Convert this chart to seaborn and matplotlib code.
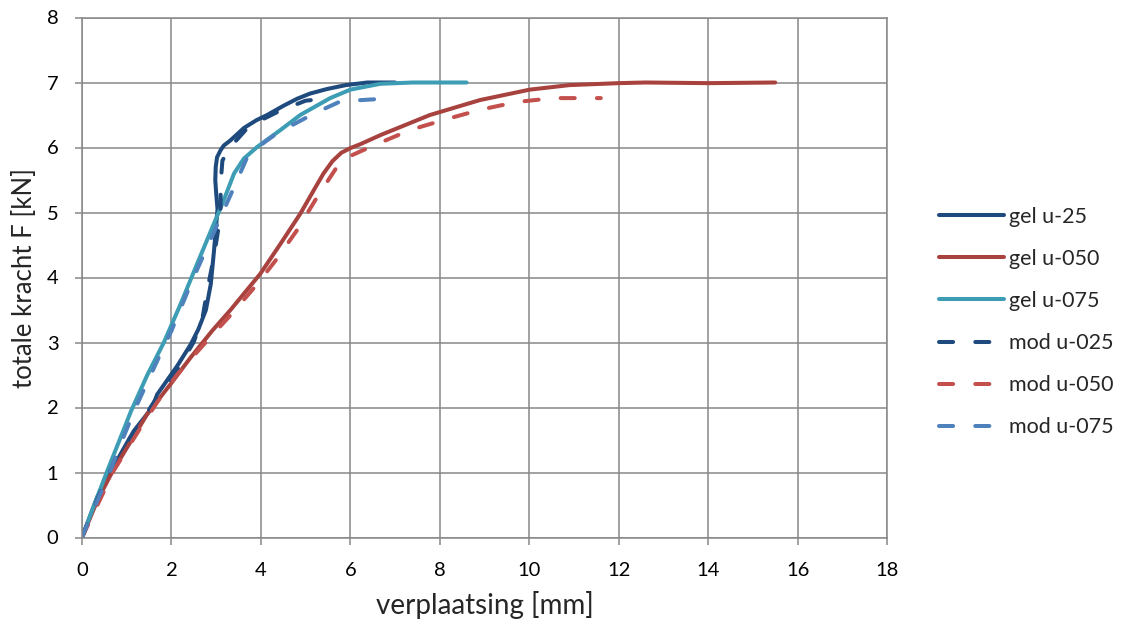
import matplotlib
matplotlib.use("Agg")
import matplotlib.pyplot as plt
import numpy as np
import pandas as pd
import seaborn as sns

# Measured load-displacement curves: displacement u [mm], total force F [kN]
gel_u25_x = [0, 0.34, 0.63, 1.0, 1.16, 1.57, 1.68, 2.13, 2.43, 2.6, 2.77, 2.88, 2.95, 3.0,
             3.03, 3.0, 2.98, 2.99, 3.02, 3.1, 3.17, 3.32, 3.62, 3.9, 4.14, 4.5, 4.81, 5.1,
             5.48, 5.9, 6.38, 7.0]
gel_u25_y = [0, 0.62, 1.0, 1.45, 1.64, 2.0, 2.2, 2.64, 2.97, 3.2, 3.5, 3.9, 4.4, 4.8,
             5.05, 5.3, 5.5, 5.7, 5.85, 5.96, 6.03, 6.11, 6.3, 6.42, 6.5, 6.64, 6.75, 6.83,
             6.9, 6.96, 7.0, 7.0]

gel_u050_x = [0, 0.35, 0.67, 1.46, 1.98, 2.43, 2.91, 3.32, 3.99, 4.44, 4.88, 5.18, 5.4,
              5.6, 5.8, 6.0, 6.22, 6.67, 7.78, 8.9, 10.01, 10.9, 12.0, 12.6, 14.0, 15.5]
gel_u050_y = [0, 0.58, 1.0, 1.9, 2.36, 2.77, 3.18, 3.5, 4.06, 4.52, 4.98, 5.34, 5.6,
              5.79, 5.92, 5.99, 6.05, 6.19, 6.5, 6.73, 6.89, 6.96, 6.99, 7.0, 6.99, 7.0]

gel_u075_x = [0, 0.3, 0.58, 0.84, 1.1, 1.46, 1.83, 2.21, 2.58, 2.95, 3.17, 3.4, 3.62,
              3.92, 4.44, 4.88, 5.55, 6.0, 6.67, 7.4, 8.6]
gel_u075_y = [0, 0.55, 1.05, 1.5, 1.95, 2.5, 3.0, 3.6, 4.22, 4.83, 5.19, 5.6, 5.83,
              6.01, 6.27, 6.5, 6.76, 6.89, 6.98, 7.0, 7.0]

# Model predictions
mod_u025_x = [0, 0.35, 0.78, 1.2, 1.7, 2.15, 2.5, 2.7, 2.8, 2.95, 3.06, 3.1, 3.1, 3.14,
              3.32, 3.66, 4.0, 4.44, 5.0, 5.55]
mod_u025_y = [0, 0.6, 1.25, 1.65, 2.18, 2.6, 3.01, 3.4, 3.8, 4.32, 4.8, 5.09, 5.45, 5.8,
              6.01, 6.27, 6.42, 6.57, 6.72, 6.76]

mod_u050_x = [0, 0.71, 1.31, 1.68, 2.13, 2.8, 3.32, 3.92, 4.36, 4.81, 5.26, 5.7, 6.0,
              6.45, 7.34, 8.12, 8.9, 9.72, 10.54, 11.6]
mod_u050_y = [0, 1.03, 1.69, 2.08, 2.51, 3.03, 3.42, 3.9, 4.29, 4.73, 5.24, 5.7, 5.87,
              6.01, 6.27, 6.43, 6.58, 6.7, 6.76, 6.76]

mod_u075_x = [0, 0.3, 0.62, 0.9, 1.2, 1.75, 2.0, 2.43, 2.8, 3.1, 3.4, 3.7, 3.98, 4.36,
              5.18, 5.78, 6.74]
mod_u075_y = [0, 0.5, 1.0, 1.5, 2.0, 2.82, 3.18, 3.9, 4.47, 4.93, 5.39, 5.86, 6.03, 6.22,
              6.52, 6.71, 6.75]

labels = ["gel u-25", "gel u-050", "gel u-075", "mod u-025", "mod u-050", "mod u-075"]
colors = ["#1f4a7e", "#a8423f", "#3d9db4", "#1f4a7e", "#c4504d", "#4f81bd"]
series = [(gel_u25_x, gel_u25_y), (gel_u050_x, gel_u050_y), (gel_u075_x, gel_u075_y),
          (mod_u025_x, mod_u025_y), (mod_u050_x, mod_u050_y), (mod_u075_x, mod_u075_y)]

sns.set_style("white")
plt.rcParams["font.family"] = ["Lato", "DejaVu Sans"]

fig = plt.figure(figsize=(11.28, 6.25), dpi=100)
ax = fig.add_axes([82 / 1128, 1 - 537.5 / 625, (887 - 82) / 1128, (537.5 - 17.5) / 625])

lw = 2.9
for i, ((xs, ys), lab, col) in enumerate(zip(series, labels, colors)):
    df = pd.DataFrame({"u": xs, "F": ys})
    if i >= 3:
        style = dict(linestyle=(0, (3.5, 5.5)), dash_capstyle="round")
    else:
        style = dict(solid_capstyle="round")
    sns.lineplot(data=df, x="u", y="F", sort=False, estimator=None, ax=ax,
                 color=col, lw=lw, label=lab, solid_joinstyle="round", **style)

grid_c = "#888888"
ax.set_xlim(0, 18)
ax.set_ylim(0, 8)
ax.set_xticks(np.arange(0, 19, 2))
ax.set_yticks(np.arange(0, 9, 1))
ax.grid(True, color=grid_c, lw=1.1)
ax.set_axisbelow(True)
for s in ax.spines.values():
    s.set_color(grid_c)
    s.set_linewidth(1.1)
ax.tick_params(axis="both", which="both", direction="out", length=5, width=1.1,
               color=grid_c, labelsize=14.5, labelcolor="black")
ax.tick_params(axis="x", bottom=True, pad=13)
ax.tick_params(axis="y", left=True, pad=12)

ax.set_xlabel("verplaatsing [mm]", fontsize=20)
ax.set_ylabel("totale kracht F [kN]", fontsize=18.5)
ax.xaxis.set_label_coords(0.5, -(605 - 537.5) / 520, transform=ax.transAxes)
ax.xaxis.label.set_va("center")
ax.yaxis.set_label_coords(-(82 - 24) / 805, 0.5, transform=ax.transAxes)
ax.yaxis.label.set_va("center")

ax.get_legend().remove()
handles, labs = ax.get_legend_handles_labels()
fig.legend(handles, labs, loc="center left", bbox_to_anchor=(930 / 1128, 1 - 322 / 625),
           frameon=False, fontsize=15.5, handlelength=3.05, handletextpad=0.22,
           labelspacing=1.03, borderaxespad=0)

fig.savefig("out.png", dpi=100)
